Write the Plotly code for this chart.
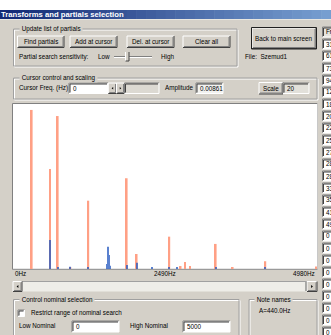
import plotly.graph_objects as go

W, H = 331, 335
BG = "#D4D0C8"
FONT = "Liberation Sans"
FS = 6.3

# ---------------- data ----------------
freq_orange = [306, 606, 732, 940, 1233, 1862, 2025, 2560, 2745, 2817, 2900, 3320, 3598, 4133, 4975]
amp_orange = [0.964, 0.606, 0.927, 0.012, 0.414, 0.550, 0.091, 0.196, 0.018, 0.042, 0.018, 0.152, 0.012, 0.047, 0.015]

freq_blue = [606, 732, 940, 1233, 1545, 1561, 1578, 1595, 1862, 2025, 2272, 2560, 2680, 3320, 4133]
amp_blue = [0.176, 0.008, 0.014, 0.010, 0.030, 0.135, 0.085, 0.020, 0.024, 0.038, 0.010, 0.012, 0.007, 0.010, 0.012]

x_tick_vals = [0, 2490, 4980]
x_tick_text = ["0Hz", "2490Hz", "4980Hz"]

partial_list = ["Fr", "31", "61", "73", "94", "12", "18", "20", "22", "25", "27", "28", "28",
                "33", "35", "41", "49", "0", "0", "0", "0", "0", "0", "0", "0", "0"]

# ---------------- helpers ----------------
shapes = []
annots = []


def X(px):
    return px / W


def Y(py):
    return 1 - py / H


def rect(x0, y0, x1, y1, fill=None, line=None, lw=1):
    shapes.append(dict(type="rect", xref="paper", yref="paper", layer="below",
                       x0=X(x0), x1=X(x1), y0=Y(y1), y1=Y(y0),
                       fillcolor=fill if fill else "rgba(0,0,0,0)",
                       line=dict(color=line if line else "rgba(0,0,0,0)", width=lw if line else 0)))


def seg(x0, y0, x1, y1, color, lw=1):
    shapes.append(dict(type="line", xref="paper", yref="paper", layer="below",
                       x0=X(x0), x1=X(x1), y0=Y(y0), y1=Y(y1),
                       line=dict(color=color, width=lw)))


def tri(cx, cy, direction, s=1.6, color="#000000"):
    if direction == "left":
        pts = [(cx + s * 0.6, cy - s), (cx + s * 0.6, cy + s), (cx - s * 0.6, cy)]
    else:
        pts = [(cx - s * 0.6, cy - s), (cx - s * 0.6, cy + s), (cx + s * 0.6, cy)]
    path = "M " + " L ".join(f"{X(a)},{Y(b)}" for a, b in pts) + " Z"
    shapes.append(dict(type="path", xref="paper", yref="paper", layer="below", path=path,
                       fillcolor=color, line=dict(color=color, width=0)))


def text(x, y, s, anchor="left", size=FS, color="#000000", bold=False, bg=None):
    a = dict(x=X(x), y=Y(y), xref="paper", yref="paper", text=f"<b>{s}</b>" if bold else s,
             showarrow=False, xanchor=anchor, yanchor="middle",
             font=dict(family=FONT, size=size, color=color))
    if bg:
        a.update(bgcolor=bg, borderpad=0)
    annots.append(a)


def button(x0, y0, x1, y1, label=None, default=False):
    rect(x0, y0, x1, y1, fill=BG)
    seg(x0, y0, x1, y0, "#FFFFFF")
    seg(x0, y0, x0, y1, "#FFFFFF")
    seg(x0, y1, x1, y1, "#404040")
    seg(x1, y0, x1, y1, "#404040")
    seg(x0 + 1, y1 - 1, x1 - 1, y1 - 1, "#808080")
    seg(x1 - 1, y0 + 1, x1 - 1, y1 - 1, "#808080")
    if default:
        rect(x0 - 0.5, y0 - 0.5, x1 + 0.5, y1 + 0.5, line="#202020", lw=1)
    if label:
        text((x0 + x1) / 2, (y0 + y1) / 2, label, anchor="center")


def textbox(x0, y0, x1, y1, fill="#FFFFFF", label=None):
    rect(x0, y0, x1, y1, fill=fill)
    seg(x0, y0, x1, y0, "#808080")
    seg(x0, y0, x0, y1, "#808080")
    seg(x0, y1, x1, y1, "#FFFFFF")
    seg(x1, y0, x1, y1, "#FFFFFF")
    seg(x0 + 1, y0 + 1, x1 - 1, y0 + 1, "#404040")
    seg(x0 + 1, y0 + 1, x0 + 1, y1 - 1, "#404040")
    if label is not None:
        text(x0 + 2, (y0 + y1) / 2, label)


def group(x0, y0, x1, y1, label):
    rect(x0 + 1, y0 + 1, x1 + 1, y1 + 1, line="#FFFFFF")
    rect(x0, y0, x1, y1, line="#A0A0A0")
    text(x0 + 5, y0, "&nbsp;" + label + "&nbsp;", bg=BG)


# ---------------- window chrome ----------------
rect(0, 19, W, H, fill=BG)
n = 34
c0, c1 = (20, 42, 118), (118, 158, 208)
for i in range(n):
    t = i / (n - 1)
    col = tuple(int(c0[k] + (c1[k] - c0[k]) * t) for k in range(3))
    rect(i * W / n, 10, (i + 1) * W / n + 0.6, 19, fill="rgb(%d,%d,%d)" % col)
seg(0, 19.5, W, 19.5, "#E8E6E0")
text(-1.5, 14.6, "Transforms and partials selection", size=7.7, color="#FFFFFF", bold=True)

# group 1
group(13.5, 29, 237, 66, "Update list of partials")
button(17.5, 36, 64, 47.5, "Find partials")
button(70, 36, 117, 47.5, "Add at cursor")
button(127, 36, 174, 47.5, "Del. at cursor")
button(183, 36, 230, 47.5, "Clear all")
text(17, 57, "Partial search sensitivity:")
text(96, 57, "Low")
seg(114, 56.5, 152, 56.5, "#808080")
seg(114, 57.5, 152, 57.5, "#FFFFFF")
rect(125.5, 52, 129, 61, fill=BG)
seg(125.5, 52, 125.5, 61, "#FFFFFF")
seg(129, 52, 129, 61, "#404040")
seg(125.5, 61, 129, 61, "#404040")
text(158.5, 57, "High")

button(252, 28, 316, 48.5, default=True)
text(284, 38.2, "Back to main screen", anchor="center")
text(243, 57, "File:&nbsp;&nbsp;Szemud1")

# right column of partials
for k, s in enumerate(partial_list):
    cy = 32 + 12 * k
    textbox(322.5, cy - 5, 334, cy + 5, fill="#FFFFFF" if k else "#E6E4DE")
    text(324, cy, s)

# group 2
group(13.5, 78, 317, 99, "Cursor control and scaling")
text(17, 88.3, "Cursor Freq. (Hz)")
textbox(69, 83, 108, 93.5, label="0")
button(108.3, 83, 116.5, 93.5)
button(116.5, 83, 124.5, 93.5)
tri(112.4, 88.2, "left", s=1.3)
tri(120.5, 88.2, "right", s=1.3)
textbox(124.5, 83, 159, 93.5, fill="#DCD9D2")
text(163, 88.3, "Amplitude")
textbox(196, 83, 223, 93.5, fill="#F2F2F0", label="0.00861")
button(259, 82.5, 283, 94, "Scale")
textbox(283, 83, 309, 93.5, fill="#E2E0DA", label="20")

# plot frame
rect(12.5, 103.5, 317.5, 269.5, fill="#FFFFFF")
seg(12.5, 103.5, 317.5, 103.5, "#808080")
seg(12.5, 103.5, 12.5, 269.5, "#808080")
seg(317.5, 103.5, 317.5, 269.5, "#C8C8C8")
seg(12.5, 269.3, 317.5, 269.3, "#9A9A9A", lw=1.2)

# scrollbar
rect(13, 281.5, 317, 291.5, fill="#EEEDE8")
seg(13, 281.5, 317, 281.5, "#A0A0A0")
button(13, 281.5, 22, 291.5)
button(307, 281.5, 317, 291.5)
tri(17.5, 286.5, "left", s=1.5)
tri(312, 286.5, "right", s=1.5)
seg(306, 282, 306, 291, "#606060")

# group 3
group(13.5, 299.5, 239, 340, "Control nominal selection")
textbox(18, 310, 24.5, 316.5)
text(28.5, 313.2, "Restrict range of nominal search")
text(17, 325.8, "Low Nominal")
textbox(72, 321, 119, 332, label="0")
text(127.7, 325.8, "High Nominal")
textbox(183, 321, 230, 332, label="5000")

# group 4
group(249, 299.5, 317, 340, "Note names")
text(257, 310.7, "A=440.0Hz")

# axis labels of the spectrum (positions via the data axis)
for v, s in zip(x_tick_vals, x_tick_text):
    anchor = "left" if v == x_tick_vals[0] else ("right" if v == x_tick_vals[-1] else "center")
    annots.append(dict(x=v, y=Y(273.8), xref="x", yref="paper", text=s, showarrow=False,
                       xanchor=anchor, yanchor="middle",
                       font=dict(family=FONT, size=FS, color="#000000")))

# ---------------- traces ----------------
fig = go.Figure()
fig.add_trace(go.Bar(x=freq_orange, y=amp_orange, width=[30] * len(freq_orange),
                     marker=dict(color="#FFA085", line=dict(width=0)), hoverinfo="skip"))
fig.add_trace(go.Bar(x=freq_blue, y=amp_blue, width=[18] * len(freq_blue),
                     marker=dict(color="#2458C0", line=dict(width=0)), opacity=0.75,
                     hoverinfo="skip"))

fig.update_layout(
    width=W, height=H, margin=dict(l=0, r=0, t=0, b=0),
    paper_bgcolor="#FFFFFF", plot_bgcolor="rgba(0,0,0,0)",
    showlegend=False, barmode="overlay",
    shapes=shapes, annotations=annots,
    xaxis=dict(domain=[X(13), X(317)], range=[0, 4980], visible=False, fixedrange=True),
    yaxis=dict(domain=[Y(269), Y(104)], range=[0, 1], visible=False, fixedrange=True),
)

fig.write_html("out.html", config={"displayModeBar": False},
               post_script="document.body.style.margin='0';document.body.style.overflow='hidden';")
